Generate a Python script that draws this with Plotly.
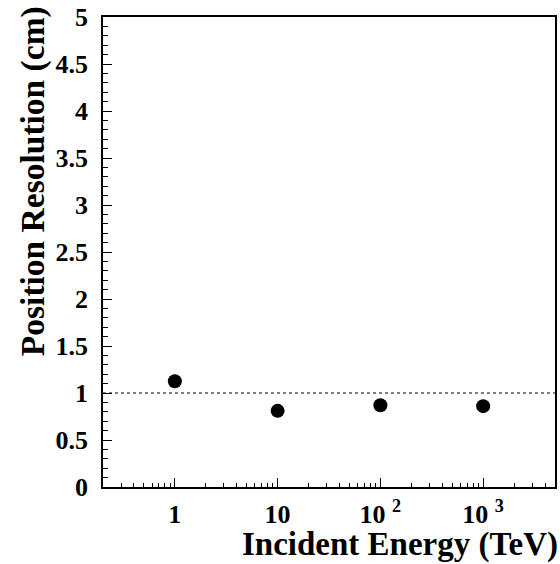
import plotly.graph_objects as go

energy = [1, 10, 100, 1000]
resolution = [1.125, 0.81, 0.87, 0.86]
reference_level = 1.0
x_tickvals = [1, 10, 100, 1000]
x_ticktext = ["1", "10", "10 <sup>2</sup>", "10 <sup>3</sup>"]
x_minor = [0.3, 0.4, 0.5, 0.6, 0.7, 0.8, 0.9,
           2, 3, 4, 5, 6, 7, 8, 9,
           20, 30, 40, 50, 60, 70, 80, 90,
           200, 300, 400, 500, 600, 700, 800, 900,
           2000, 3000, 4000, 5000]
y_tickvals = [0, 0.5, 1, 1.5, 2, 2.5, 3, 3.5, 4, 4.5, 5]
y_ticktext = ["0", "0.5", "1", "1.5", "2", "2.5", "3", "3.5", "4", "4.5", "5"]

FONT = "Liberation Serif"

fig = go.Figure()
fig.add_trace(go.Scatter(
    x=energy, y=resolution, mode="markers",
    marker=dict(color="black", size=14, symbol="circle"),
    showlegend=False,
))

fig.add_shape(type="line", xref="paper", x0=0, x1=1, yref="y",
              y0=reference_level, y1=reference_level,
              line=dict(color="black", width=1.2, dash="3px,3px"))

fig.update_layout(
    width=560, height=564,
    margin=dict(l=103, r=3, t=16, b=77),
    paper_bgcolor="white", plot_bgcolor="white",
    font=dict(family=FONT, color="black"),
    xaxis=dict(
        type="log", range=[-0.69897, 3.69897],
        showline=True, linecolor="black", linewidth=1.5, mirror=True,
        showgrid=False, zeroline=False,
        ticks="inside", ticklen=9, tickwidth=1, tickcolor="black",
        tickmode="array", tickvals=x_tickvals, ticktext=x_ticktext,
        tickfont=dict(family=FONT, size=26, weight="bold", color="black"),
        ticklabelstandoff=3,
        minor=dict(tickmode="array", tickvals=x_minor, ticks="inside",
                   ticklen=4, tickcolor="black", tickwidth=1, showgrid=False),
    ),
    yaxis=dict(
        range=[0, 5],
        showline=True, linecolor="black", linewidth=1.5, mirror=True,
        showgrid=False, zeroline=False,
        ticks="inside", ticklen=9, tickwidth=1, tickcolor="black",
        tickmode="array", tickvals=y_tickvals, ticktext=y_ticktext,
        tickfont=dict(family=FONT, size=26, weight="bold", color="black"),
        ticklabelstandoff=8,
        minor=dict(dtick=0.1, ticks="inside", ticklen=5,
                   tickcolor="black", tickwidth=1, showgrid=False),
    ),
)

fig.add_annotation(text="<b>Incident Energy (TeV)</b>", xref="paper", yref="paper",
                   x=1, y=-0.123, xanchor="right", yanchor="middle", xshift=5,
                   showarrow=False, font=dict(family=FONT, size=33, color="black"))
fig.add_annotation(text="<b>Position Resolution (cm)</b>", xref="paper", yref="paper",
                   x=-0.1556, y=0.65, xanchor="center", yanchor="middle", textangle=-90,
                   showarrow=False, font=dict(family=FONT, size=33.5, color="black"))

fig.write_html("out.html", config={"displayModeBar": False},
               post_script="document.body.style.margin='0';")
